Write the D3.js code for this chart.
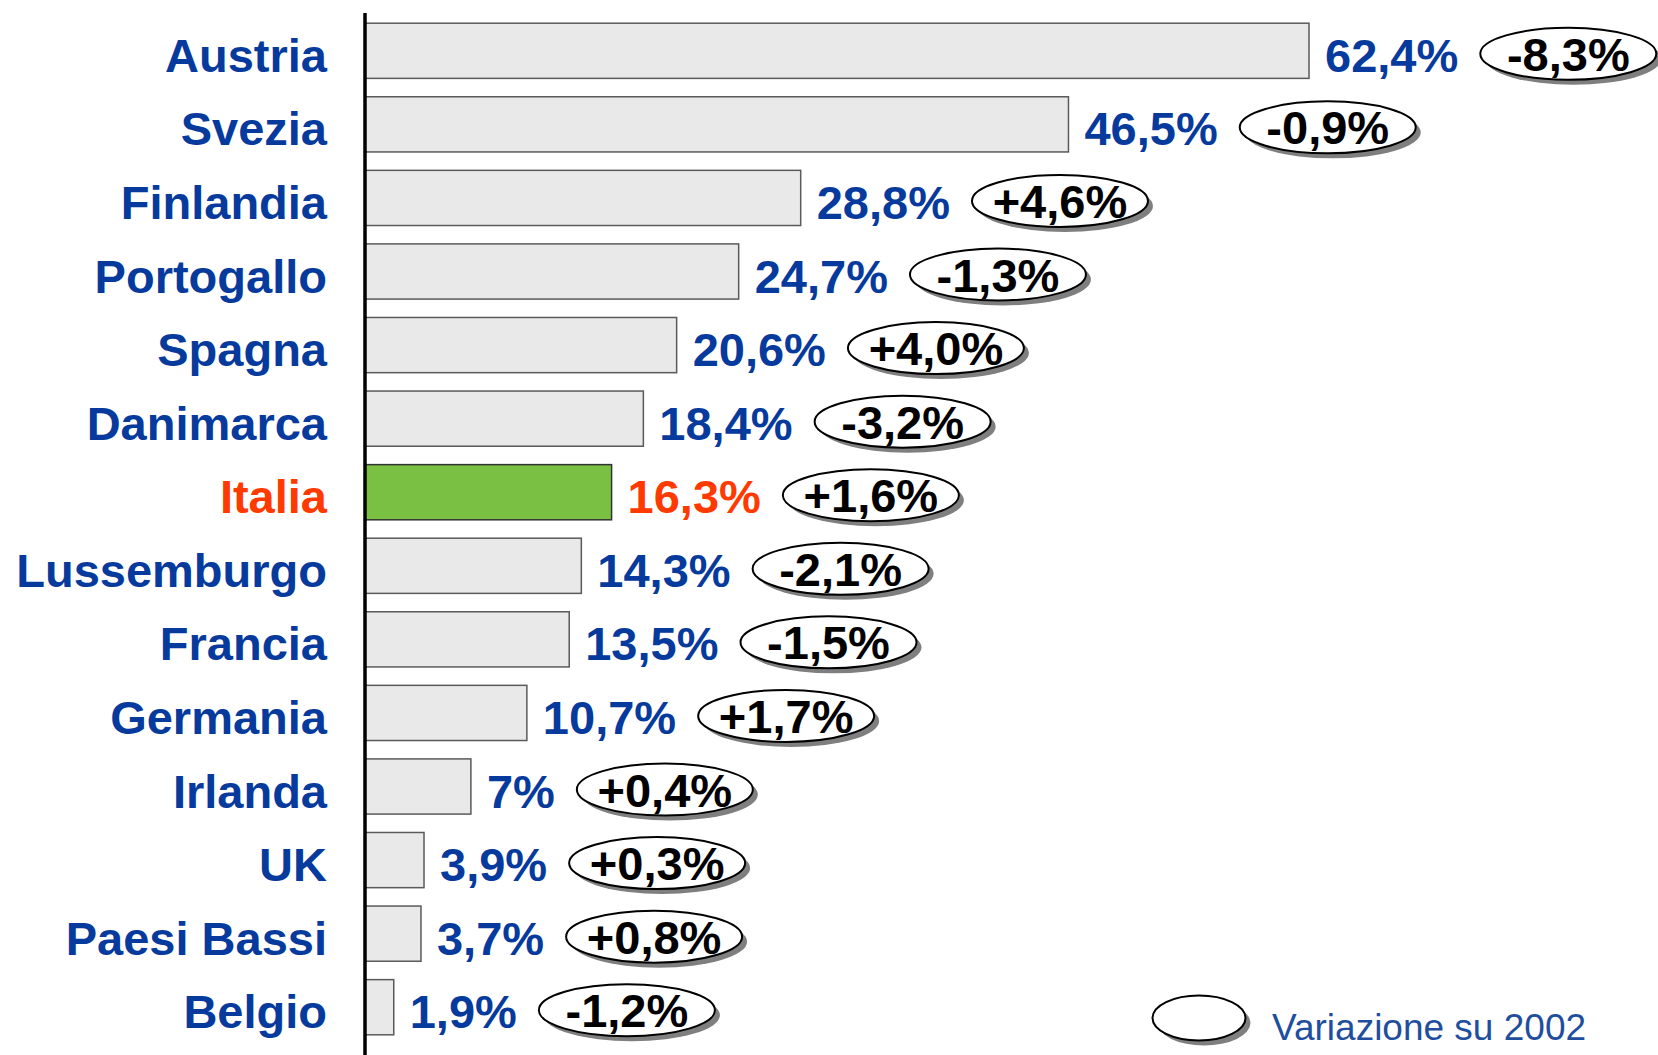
<!DOCTYPE html>
<html>
<head>
<meta charset="utf-8">
<script src="https://cdn.jsdelivr.net/npm/d3@7"></script>
<style>
  html, body { margin: 0; padding: 0; background: #fff; }
  svg { display: block; }
  text { font-family: "Liberation Sans", Arial, sans-serif; }
</style>
</head>
<body>
<div id="chart"></div>
<script>
const countries = ['Austria', 'Svezia', 'Finlandia', 'Portogallo', 'Spagna', 'Danimarca', 'Italia',
  'Lussemburgo', 'Francia', 'Germania', 'Irlanda', 'UK', 'Paesi Bassi', 'Belgio'];
const shares = [62.4, 46.5, 28.8, 24.7, 20.6, 18.4, 16.3, 14.3, 13.5, 10.7, 7, 3.9, 3.7, 1.9];
const changes = [-8.3, -0.9, 4.6, -1.3, 4.0, -3.2, 1.6, -2.1, -1.5, 1.7, 0.4, 0.3, 0.8, -1.2];
const highlight = 'Italia';
const legendLabel = 'Variazione su 2002';

const width = 1658, height = 1055;
const blue = '#063a9c', red = '#ff3a00';

const rows = countries.map((c, i) => ({ name: c, share: shares[i], change: changes[i] }));

const fmtShare = v => (Number.isInteger(v) ? v : v.toFixed(1).replace('.', ',')) + '%';
const fmtChange = v => (v > 0 ? '+' : v < 0 ? '-' : '') + Math.abs(v).toFixed(1).replace('.', ',') + '%';

const svg = d3.select('#chart').append('svg')
  .attr('width', width)
  .attr('height', height);

const x0 = 365;
const x = d3.scaleLinear().domain([0, 62.4]).range([x0, 1309]);
const y = d3.scaleBand()
  .domain(countries)
  .range([14, 1044])
  .paddingInner(0.25)
  .paddingOuter(0.125);

const cy = d => y(d.name) + y.bandwidth() / 2;

// bars
svg.append('g').selectAll('rect')
  .data(rows)
  .join('rect')
  .attr('x', x0)
  .attr('y', d => y(d.name))
  .attr('width', d => x(d.share) - x0)
  .attr('height', y.bandwidth())
  .attr('fill', d => d.name === highlight ? '#7ac143' : '#e9e9e9')
  .attr('stroke', d => d.name === highlight ? '#333' : '#5a5a5a')
  .attr('stroke-width', 1.5);

// axis line
svg.append('line')
  .attr('x1', x0).attr('x2', x0)
  .attr('y1', 13).attr('y2', height)
  .attr('stroke', '#000')
  .attr('stroke-width', 3.5);

// category labels
svg.append('g').selectAll('text')
  .data(rows)
  .join('text')
  .attr('x', 327)
  .attr('y', d => cy(d) + 21)
  .attr('text-anchor', 'end')
  .attr('font-size', 47)
  .attr('font-weight', 'bold')
  .attr('fill', d => d.name === highlight ? red : blue)
  .text(d => d.name);

// value labels
const vals = svg.append('g').selectAll('text')
  .data(rows)
  .join('text')
  .attr('x', d => x(d.share) + 16)
  .attr('y', d => cy(d) + 21)
  .attr('font-size', 47)
  .attr('font-weight', 'bold')
  .attr('fill', d => d.name === highlight ? red : blue)
  .text(d => fmtShare(d.share));

const rx = 88, ry = 26;
vals.each(function (d) {
  d.ex = x(d.share) + 16 + this.getComputedTextLength() + 22 + rx;
  d.ey = cy(d) + 3;
});

function bubble(g, ex, ey, rx, ry) {
  g.append('ellipse')
    .attr('cx', ex + 5).attr('cy', ey + 5)
    .attr('rx', rx).attr('ry', ry)
    .attr('fill', '#7f7f7f');
  g.append('ellipse')
    .attr('cx', ex).attr('cy', ey)
    .attr('rx', rx).attr('ry', ry)
    .attr('fill', '#fff')
    .attr('stroke', '#000')
    .attr('stroke-width', 2);
}

// change bubbles
const chg = svg.append('g').selectAll('g')
  .data(rows)
  .join('g');

chg.each(function (d) {
  const g = d3.select(this);
  bubble(g, d.ex, d.ey, rx, ry);
  g.append('text')
    .attr('x', d.ex)
    .attr('y', d.ey + 17)
    .attr('text-anchor', 'middle')
    .attr('font-size', 47)
    .attr('font-weight', 'bold')
    .attr('fill', '#000')
    .text(fmtChange(d.change));
});

// legend
const lg = svg.append('g');
bubble(lg, 1199, 1018, 46.5, 22.5);
lg.append('text')
  .attr('x', 1272)
  .attr('y', 1040)
  .attr('font-size', 37)
  .attr('fill', '#1f4e9e')
  .text(legendLabel);
</script>
</body>
</html>
